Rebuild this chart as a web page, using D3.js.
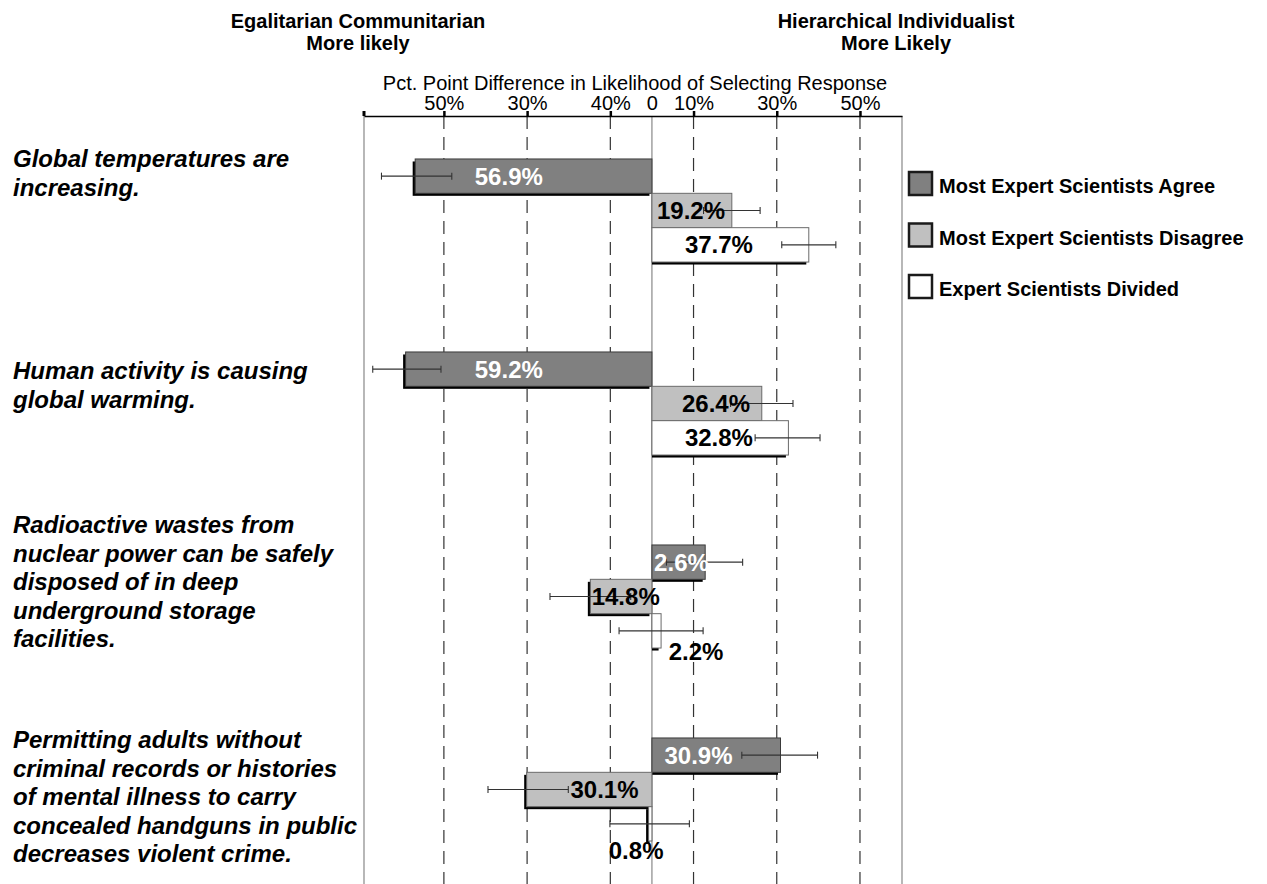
<!DOCTYPE html>
<html>
<head>
<meta charset="utf-8">
<script src="https://cdn.jsdelivr.net/npm/d3@7"></script>
<style>
  html, body { margin: 0; padding: 0; background: #fff; }
  svg { display: block; }
  text { font-family: Arial, "Liberation Sans", Helvetica, sans-serif; }
</style>
</head>
<body>
<svg id="chart" width="1267" height="884"></svg>
<script>
// ---------------- DATA ----------------
const categories = [
  ["Global temperatures are", "increasing."],
  ["Human activity is causing", "global warming."],
  ["Radioactive wastes from", "nuclear power can be safely", "disposed of in deep", "underground storage", "facilities."],
  ["Permitting adults without", "criminal records or histories", "of mental illness to carry", "concealed handguns in public", "decreases violent crime."]
];
const seriesNames = ["Most Expert Scientists Agree", "Most Expert Scientists Disagree", "Expert Scientists Divided"];

const agreeValues    = [-56.9, -59.2, 12.8, 30.9];
const disagreeValues = [19.2, 26.4, -14.8, -30.1];
const dividedValues  = [37.7, 32.8, 2.2, -0.8];

const agreeLabels    = ["56.9%", "59.2%", "2.6%", "30.9%"];
const disagreeLabels = ["19.2%", "26.4%", "14.8%", "30.1%"];
const dividedLabels  = ["37.7%", "32.8%", "2.2%", "0.8%"];

// error bar [low, high]
const agreeErr    = [[-65.0, -48.1], [-67.1, -50.7], [3.5, 21.8], [21.6, 39.8]];
const disagreeErr = [[12.4, 26.0], [18.9, 33.9], [-24.5, -5.1], [-39.4, -20.1]];
const dividedErr  = [[31.2, 44.2], [24.8, 40.4], [-7.9, 12.3], [-10.1, 9.0]];

const tickValues = [-50, -30, -10, 0, 10, 30, 50];
const tickLabels = ["50%", "30%", "40%", "0", "10%", "30%", "50%"];
const gridValues = [-50, -30, -10, 10, 30, 50];
const xDomain = [-69.2, 60.1];

// ---------------- LAYOUT ----------------
const plotLeft = 364, plotRight = 902, axisY = 116, plotBottom = 884;
const catLabelFirstBaseline = [167, 379, 533, 748];
const catLineHeight = 28.5;
// label anchors (value units) and extra vertical offsets (px)
const agreeLabelAt    = [-34.4, -34.4, 7.1, 11.2];
const disagreeLabelAt = [9.4, 15.4, -6.3, -11.4];
const dividedLabelAt  = [16.1, 16.1, 10.6, -3.8];
const dividedLabelDy  = [0, 0, 21, 27];

const fills   = ["#808080", "#c0c0c0", "#ffffff"];
const strokes = ["#3a3a3a", "#6a6a6a", "#6a6a6a"];
const labelColors = ["#ffffff", "#000000", "#000000"];

const svg = d3.select("#chart");

const x = d3.scaleLinear().domain(xDomain).range([plotLeft, plotRight]);
const catKeys = categories.map((c, i) => "c" + i);
const y = d3.scaleBand().domain(catKeys).range([114, 886]).paddingInner(0.466).paddingOuter(0.233);
const ySub = d3.scaleBand().domain([0, 1, 2]).range([0, y.bandwidth()]);

const seriesValues = [agreeValues, disagreeValues, dividedValues];
const seriesLabels = [agreeLabels, disagreeLabels, dividedLabels];
const seriesErr = [agreeErr, disagreeErr, dividedErr];
const seriesLabelAt = [agreeLabelAt, disagreeLabelAt, dividedLabelAt];
const seriesLabelDy = [[0,0,0,0], [0,0,0,0], dividedLabelDy];

// ---------- headers ----------
const hdr = svg.append("g").attr("font-weight", "bold").attr("font-size", 20).attr("text-anchor", "middle").attr("fill", "#000");
hdr.append("text").attr("x", 358).attr("y", 28).text("Egalitarian Communitarian");
hdr.append("text").attr("x", 358).attr("y", 50).text("More likely");
hdr.append("text").attr("x", 896).attr("y", 28).text("Hierarchical Individualist");
hdr.append("text").attr("x", 896).attr("y", 50).text("More Likely");

svg.append("text").attr("x", 635).attr("y", 90).attr("text-anchor", "middle")
  .attr("font-size", 20).attr("fill", "#000")
  .text("Pct. Point Difference in Likelihood of Selecting Response");

// ---------- grid ----------
const grid = svg.append("g");
grid.selectAll("line.grid").data(gridValues).join("line")
  .attr("class", "grid")
  .attr("x1", d => x(d)).attr("x2", d => x(d))
  .attr("y1", axisY).attr("y2", plotBottom)
  .attr("stroke", "#333").attr("stroke-width", 1.2)
  .attr("stroke-dasharray", "13,8");
// borders and zero line
[xDomain[0], xDomain[1], 0].forEach(v => {
  grid.append("line").attr("x1", x(v)).attr("x2", x(v)).attr("y1", axisY).attr("y2", plotBottom)
    .attr("stroke", "#888").attr("stroke-width", 1.2);
});

// ---------- axis ----------
const axis = d3.axisTop(x).tickValues(tickValues).tickFormat((d, i) => tickLabels[i])
  .tickSizeInner(5).tickSizeOuter(0).tickPadding(1.5);
const ax = svg.append("g").attr("transform", `translate(0,${axisY})`).call(axis);
ax.select(".domain").attr("stroke", "#000").attr("stroke-width", 1.5);
ax.selectAll(".tick line").attr("stroke", "#000").attr("stroke-width", 2.5);
ax.selectAll(".tick").filter(d => d === 0).select("line").remove();
ax.selectAll(".tick text").attr("font-size", 20).attr("fill", "#000").attr("font-family", 'Arial, "Liberation Sans", sans-serif');
ax.append("line").attr("x1", x(xDomain[0])).attr("x2", x(xDomain[0])).attr("y1", 0).attr("y2", -5)
  .attr("stroke", "#000").attr("stroke-width", 3);

// ---------- bars ----------
const barsG = svg.append("g");
categories.forEach((c, ci) => {
  seriesValues.forEach((vals, si) => {
    const v = vals[ci];
    const by = y(catKeys[ci]) + ySub(si);
    const bh = ySub.bandwidth();
    const x0 = x(Math.min(0, v)), x1 = x(Math.max(0, v));
    // shadow
    const sx0 = v > 0 ? x(0) : x0 - 2.5;
    const sx1 = x1 - 2.5;
    if (sx1 > sx0) {
      barsG.append("rect").attr("x", sx0).attr("y", by + 2.5)
        .attr("width", sx1 - sx0).attr("height", bh).attr("fill", "#000");
    }
    barsG.append("rect").attr("x", x0).attr("y", by)
      .attr("width", Math.max(0.5, x1 - x0)).attr("height", bh)
      .attr("fill", fills[si]).attr("stroke", strokes[si]).attr("stroke-width", 1);
  });
});

// ---------- error bars ----------
const errG = svg.append("g").attr("stroke", "#333").attr("stroke-width", 1.1);
categories.forEach((c, ci) => {
  seriesErr.forEach((errs, si) => {
    const [lo, hi] = errs[ci];
    const cy = y(catKeys[ci]) + ySub(si) + ySub.bandwidth() / 2;
    errG.append("line").attr("x1", x(lo)).attr("x2", x(hi)).attr("y1", cy).attr("y2", cy);
    [lo, hi].forEach(e => errG.append("line").attr("x1", x(e)).attr("x2", x(e)).attr("y1", cy - 3.5).attr("y2", cy + 3.5));
  });
});

// ---------- value labels ----------
const labG = svg.append("g").attr("font-size", 24).attr("font-weight", "bold").attr("text-anchor", "middle");
categories.forEach((c, ci) => {
  seriesLabels.forEach((labs, si) => {
    const cy = y(catKeys[ci]) + ySub(si) + ySub.bandwidth() / 2 + seriesLabelDy[si][ci];
    labG.append("text").attr("x", x(seriesLabelAt[si][ci])).attr("y", cy).attr("dy", "0.36em")
      .attr("fill", labelColors[si]).text(labs[ci]);
  });
});

// ---------- category labels ----------
const catG = svg.append("g").attr("font-size", 24).attr("font-weight", "bold").attr("font-style", "italic").attr("fill", "#000");
categories.forEach((lines, ci) => {
  const t = catG.append("text").attr("x", 13).attr("y", catLabelFirstBaseline[ci]);
  lines.forEach((ln, li) => {
    t.append("tspan").attr("x", 13).attr("y", catLabelFirstBaseline[ci] + li * catLineHeight).text(ln);
  });
});

// ---------- legend ----------
const legY = [172, 223.5, 275];
const leg = svg.append("g");
seriesNames.forEach((name, si) => {
  leg.append("rect").attr("x", 909).attr("y", legY[si]).attr("width", 23).attr("height", 23)
    .attr("fill", fills[si]).attr("stroke", "#1a1a1a").attr("stroke-width", 2.5);
  leg.append("text").attr("x", 939).attr("y", legY[si] + 21).attr("font-size", 20).attr("font-weight", "bold")
    .attr("fill", "#000").text(name);
});
</script>
</body>
</html>
